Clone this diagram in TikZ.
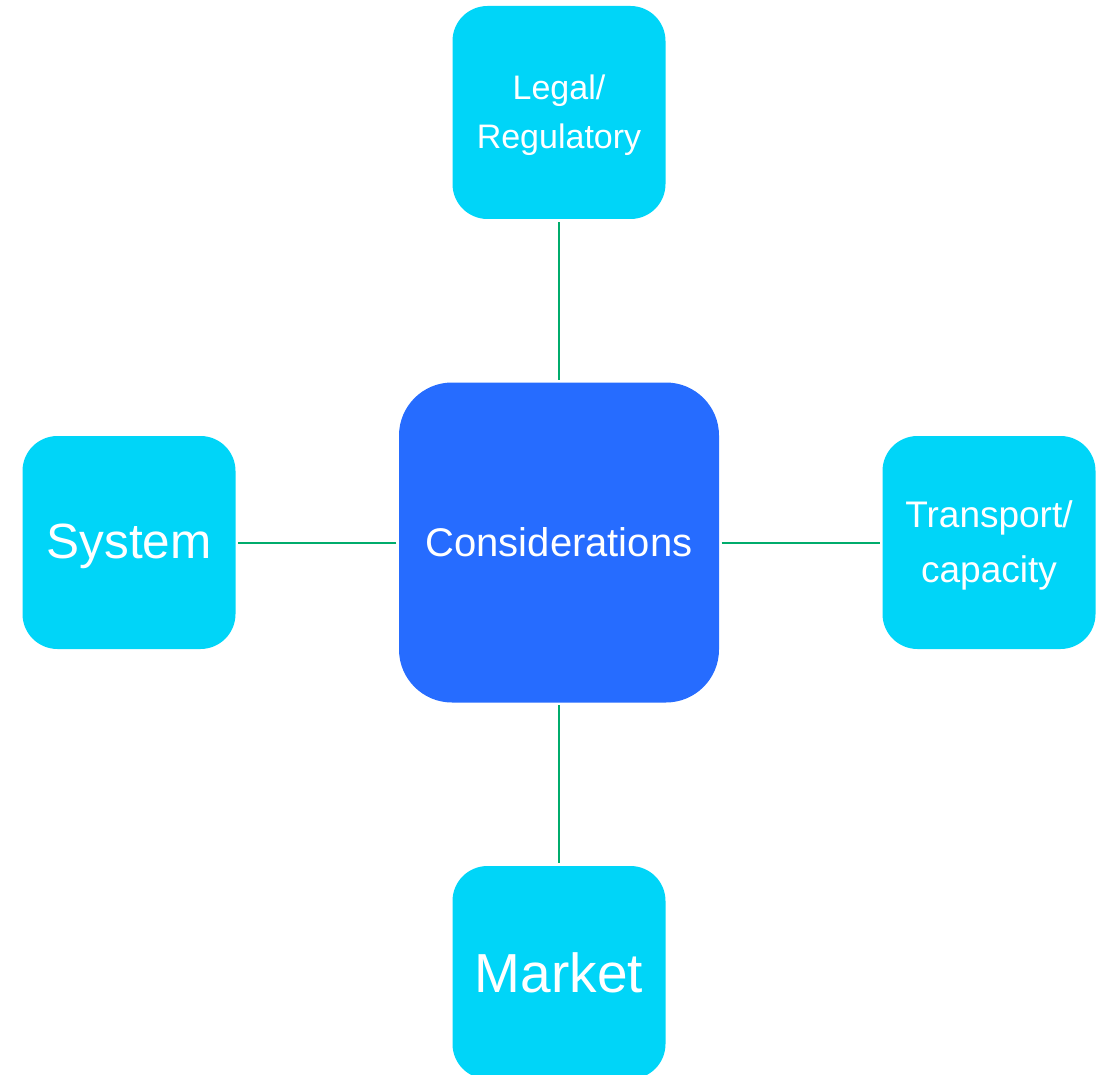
\documentclass[tikz,border=0pt]{standalone}
\usepackage{fontspec}
\setmainfont{Liberation Sans}
\begin{document}
\definecolor{hubblue}{RGB}{38,108,255}
\definecolor{leafcyan}{RGB}{0,213,248}
\definecolor{linkgreen}{RGB}{0,172,108}
\begin{tikzpicture}[x=1pt,y=-1pt,
  leaf/.style={rectangle, rounded corners=35pt, fill=leafcyan, text=white,
    minimum width=213pt, minimum height=213pt, inner sep=0pt, align=center},
  hub/.style={rectangle, rounded corners=53pt, fill=hubblue, text=white,
    minimum width=320pt, minimum height=320pt, inner sep=0pt, align=center},
  link/.style={draw=linkgreen, line width=2pt, shorten <=2.5pt, shorten >=2.5pt}]
  \useasboundingbox (0,0) rectangle (1100,1075);
  \clip (0,0) rectangle (1100,1075);

  \node[hub, font=\fontsize{40}{48}\selectfont] (cons) at (559,542.5)
    {Considerations};
  \node[leaf, font=\fontsize{34}{49}\selectfont] (legal) at (559,112.5)
    {\rule{0pt}{31pt}Legal/\\Regulatory};
  \node[leaf, font=\fontsize{49.5}{58}\selectfont] (sys) at (129,542.5)
    {\rule{0pt}{43pt}System};
  \node[leaf, font=\fontsize{37}{55}\selectfont] (trans) at (989,542.5)
    {\rule{0pt}{32pt}Transport/\\capacity};
  \node[leaf, font=\fontsize{55}{64}\selectfont] (market) at (559,972.5)
    {Market};

  \draw[link] (cons) -- (legal);
  \draw[link] (cons) -- (sys);
  \draw[link] (cons) -- (trans);
  \draw[link] (cons) -- (market);
\end{tikzpicture}
\end{document}
